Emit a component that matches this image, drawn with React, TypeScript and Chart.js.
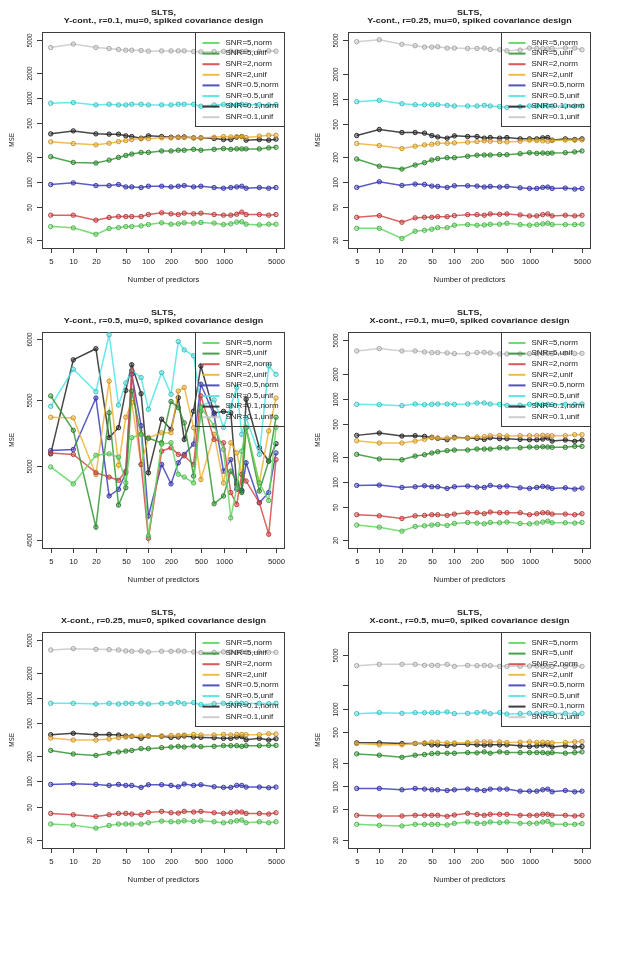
import React, { useEffect, useRef } from 'react';
import { Chart, registerables } from 'chart.js';
Chart.register(...registerables);

// ---------------- data ----------------
const predictors = [5, 10, 20, 30, 40, 50, 60, 80, 100, 150, 200, 250, 300, 400, 500, 750, 1000, 1250, 1500, 1750, 2000, 3000, 4000, 5000];
const seriesLabels = ['SNR=5,norm', 'SNR=5,unif', 'SNR=2,norm', 'SNR=2,unif', 'SNR=0.5,norm', 'SNR=0.5,unif', 'SNR=0.1,norm', 'SNR=0.1,unif'];
const seriesRGB = [[98, 214, 98], [52, 150, 52], [214, 72, 72], [240, 178, 56], [62, 62, 190], [80, 228, 228], [40, 40, 40], [200, 200, 200]];

const xTicks = [5, 10, 20, 50, 100, 200, 500, 1000, 2000, 5000];
const xTickLabels = ['5', '10', '20', '50', '100', '200', '500', '1000', '', '5000'];
const logTicks = [20, 50, 100, 200, 500, 1000, 2000, 5000];
const logTickLabels = ['20', '50', '100', '200', '500', '1000', '2000', '5000'];
const logTickLabelsP6 = ['20', '50', '100', '200', '500', '1000', '', '5000'];
const linTicks = [4500, 5000, 5500, 6000];
const linTickLabels = ['4500', '5000', '5500', '6000'];

// Panel 1: Y-cont., r=0.1
const yc1_s5n = [29.2, 28.2, 23.6, 27.7, 28.4, 29.2, 29.2, 29.8, 30.9, 32.4, 31.2, 31.5, 32.4, 32.1, 32.7, 32.1, 30.9, 31.5, 33.0, 33.3, 31.2, 30.6, 31.2, 31.2];
const yc1_s5u = [200, 171, 168, 182, 196, 207, 215, 225, 225, 234, 234, 239, 239, 245, 239, 245, 250, 245, 248, 248, 248, 248, 255, 259];
const yc1_s2n = [40.0, 40.0, 34.8, 37.5, 38.5, 38.5, 38.5, 38.5, 40.7, 42.7, 41.5, 40.7, 42.3, 41.5, 42.3, 40.7, 40.0, 40.0, 41.1, 43.5, 40.7, 40.7, 40.0, 40.7];
const yc1_s2u = [301, 287, 277, 290, 303, 312, 321, 327, 327, 336, 336, 339, 339, 336, 336, 342, 348, 345, 345, 348, 339, 352, 361, 361];
const yc1_s05n = [92.9, 97.3, 90.3, 90.3, 92.9, 87.1, 87.1, 85.5, 88.7, 88.7, 87.1, 88.7, 90.3, 87.1, 88.7, 85.5, 83.9, 85.5, 87.1, 88.7, 83.9, 85.5, 83.9, 85.5];
const yc1_s05u = [871, 887, 832, 847, 832, 832, 847, 847, 832, 832, 832, 847, 847, 847, 802, 832, 840, 832, 840, 847, 832, 840, 832, 840];
const yc1_s01n = [375, 407, 375, 372, 372, 355, 348, 333, 355, 348, 342, 342, 345, 336, 336, 330, 321, 321, 342, 348, 315, 321, 315, 324];
const yc1_s01u = [4040, 4440, 4040, 3925, 3820, 3750, 3750, 3715, 3650, 3680, 3680, 3680, 3680, 3610, 3580, 3600, 3620, 3650, 3620, 3600, 3650, 3620, 3680, 3650];

// Panel 2: Y-cont., r=0.25
const yc2_s5n = [27.9, 27.9, 21.1, 25.7, 26.4, 27.2, 28.4, 28.4, 30.4, 30.9, 30.4, 30.6, 31.2, 31.2, 32.1, 30.9, 30.4, 30.9, 31.5, 32.1, 30.9, 30.9, 30.9, 31.2];
const yc2_s5u = [189, 155, 143, 160, 171, 184, 191, 196, 196, 204, 210, 211, 211, 213, 213, 219, 225, 221, 223, 221, 223, 225, 230, 236];
const yc2_s2n = [37.8, 39.6, 33.0, 37.2, 37.8, 37.8, 38.5, 38.5, 39.6, 40.7, 40.7, 40.0, 41.5, 41.1, 41.5, 40.4, 39.3, 39.3, 40.7, 41.5, 39.3, 40.0, 39.3, 40.0];
const yc2_s2u = [290, 274, 252, 269, 279, 284, 292, 292, 295, 301, 306, 312, 309, 306, 303, 309, 318, 315, 312, 309, 315, 318, 318, 321];
const yc2_s05n = [86.3, 101, 91.2, 94.6, 93.7, 89.5, 88.7, 86.3, 90.3, 90.3, 89.5, 87.1, 88.7, 87.1, 88.7, 85.5, 83.9, 83.9, 86.3, 87.1, 83.9, 84.7, 82.4, 83.9];
const yc2_s05u = [920, 955, 871, 847, 847, 847, 847, 832, 817, 817, 817, 832, 817, 802, 787, 802, 817, 817, 817, 817, 817, 817, 817, 817];
const yc2_s01n = [361, 427, 393, 393, 386, 361, 348, 336, 358, 352, 352, 336, 342, 336, 342, 330, 330, 330, 339, 342, 318, 330, 324, 330];
const yc2_s01u = [4820, 5090, 4480, 4320, 4150, 4150, 4190, 4040, 4040, 4000, 4000, 4040, 3890, 3855, 3750, 3820, 4040, 4000, 4000, 3965, 4000, 4040, 4040, 3855];

// Panel 3: Y-cont., r=0.5
const yc3_s5n = [4995, 4875, 5080, 5090, 5066, 4882, 5210, 5235, 4523, 5162, 5172, 4943, 4923, 4882, 5440, 5300, 5122, 4643, 4848, 5110, 5285, 4882, 4760, 5288];
const yc3_s5u = [5532, 5265, 4582, 5400, 4729, 4848, 5571, 5235, 5205, 5172, 5487, 5440, 5322, 4930, 5412, 4738, 4791, 4965, 4890, 4815, 5285, 4825, 5037, 5365];
const yc3_s2n = [5097, 5086, 4954, 4923, 4900, 4965, 5735, 5013, 4508, 5110, 5135, 5086, 5075, 5013, 5532, 5197, 5172, 4815, 4733, 4943, 4895, 4745, 4535, 5048];
const yc3_s2u = [5365, 5360, 4940, 5650, 5008, 5365, 5480, 5013, 5210, 5247, 5247, 5571, 5600, 5285, 4906, 5235, 4882, 5172, 5097, 4940, 5285, 4882, 5260, 5515];
const yc3_s05n = [5114, 5122, 5515, 4791, 4837, 4954, 5706, 5300, 4655, 5013, 4875, 5025, 5086, 5162, 5625, 5380, 4965, 5048, 4837, 4825, 5025, 4745, 4815, 5097];
const yc3_s05u = [5450, 5748, 5566, 6040, 5460, 5636, 5740, 5680, 5426, 5720, 5545, 5982, 5910, 5860, 5450, 5500, 5288, 5450, 5600, 5235, 5360, 5086, 5775, 5706];
const yc3_s01n = [5090, 5826, 5920, 5210, 5285, 5576, 5785, 5550, 4954, 5350, 5272, 5518, 5197, 5412, 5775, 5398, 5410, 5400, 4870, 4830, 5505, 5135, 5037, 5165];
const yc3_s01u: number[] = [];

// Panel 4: X-cont., r=0.1
const xc1_s5n = [30.5, 28.8, 25.8, 29.4, 29.9, 30.5, 31.0, 30.2, 31.9, 32.8, 32.2, 31.6, 32.8, 32.5, 33.1, 31.9, 31.6, 32.2, 33.1, 34.0, 32.5, 32.5, 32.2, 32.8];
const xc1_s5u = [215, 189, 185, 205, 213, 223, 231, 238, 242, 242, 249, 249, 249, 258, 256, 258, 263, 261, 265, 263, 261, 261, 268, 268];
const xc1_s2n = [40.6, 39.4, 36.6, 39.4, 39.8, 40.6, 40.6, 39.8, 41.3, 42.9, 42.9, 41.7, 43.7, 42.9, 42.9, 42.9, 40.6, 41.7, 42.9, 42.9, 41.3, 41.3, 40.6, 41.7];
const xc1_s2u = [313, 294, 294, 310, 325, 340, 337, 337, 337, 340, 347, 350, 360, 363, 356, 360, 360, 360, 363, 360, 360, 360, 370, 370];
const xc1_s05n = [91.2, 92.0, 86.3, 87.9, 90.4, 87.9, 87.9, 83.9, 87.9, 89.5, 87.1, 86.3, 91.2, 87.9, 89.5, 85.5, 83.9, 86.3, 88.7, 87.1, 83.9, 85.5, 82.4, 84.7];
const xc1_s05u = [855, 847, 824, 863, 847, 855, 863, 863, 855, 863, 887, 887, 863, 855, 832, 832, 855, 855, 847, 855, 847, 855, 855, 863];
const xc1_s01n = [363, 387, 356, 360, 353, 344, 334, 322, 344, 337, 334, 325, 340, 331, 331, 325, 322, 322, 328, 337, 310, 319, 308, 319];
const xc1_s01u = [3733, 3981, 3733, 3733, 3631, 3565, 3565, 3532, 3467, 3467, 3565, 3597, 3532, 3436, 3436, 3436, 3467, 3467, 3500, 3500, 3467, 3500, 3467, 3500];

// Panel 5: X-cont., r=0.25
const xc2_s5n = [30.8, 29.9, 27.5, 29.6, 30.8, 30.8, 30.8, 30.8, 31.9, 33.4, 32.8, 32.8, 33.7, 33.1, 33.7, 32.8, 31.9, 32.8, 33.7, 34.4, 31.9, 32.8, 31.9, 32.8];
const xc2_s5u = [235, 213, 205, 217, 225, 231, 235, 247, 247, 254, 258, 263, 258, 265, 261, 263, 268, 268, 268, 263, 268, 268, 270, 270];
const xc2_s2n = [41.3, 39.8, 38.0, 39.8, 41.3, 41.3, 40.6, 39.8, 42.5, 43.7, 42.1, 41.7, 43.7, 42.9, 43.7, 42.1, 41.3, 42.1, 42.9, 42.9, 41.3, 41.3, 40.6, 42.1];
const xc2_s2u = [331, 313, 313, 322, 334, 340, 347, 350, 347, 350, 356, 356, 360, 366, 360, 360, 366, 360, 366, 366, 363, 363, 373, 370];
const xc2_s05n = [92.0, 93.8, 92.0, 89.5, 92.0, 89.5, 89.5, 84.7, 91.2, 91.2, 89.5, 86.3, 92.9, 89.5, 91.2, 86.3, 84.7, 84.7, 89.5, 89.5, 85.5, 85.5, 83.9, 85.5];
const xc2_s05u = [863, 863, 847, 863, 847, 863, 863, 863, 847, 863, 863, 887, 855, 879, 832, 855, 863, 855, 863, 863, 855, 863, 855, 863];
const xc2_s01n = [363, 377, 363, 366, 360, 350, 347, 328, 350, 347, 337, 340, 350, 340, 337, 334, 328, 328, 340, 344, 316, 328, 313, 325];
const xc2_s01u = [3767, 3908, 3837, 3802, 3767, 3664, 3631, 3664, 3565, 3631, 3631, 3664, 3631, 3565, 3500, 3532, 3565, 3565, 3532, 3565, 3532, 3565, 3532, 3532];

// Panel 6: X-cont., r=0.5
const xc3_s5n = [31.6, 30.7, 30.1, 31.6, 31.6, 31.6, 31.6, 31.0, 32.6, 33.9, 32.6, 32.6, 33.9, 33.2, 33.9, 32.6, 32.6, 32.6, 33.9, 34.6, 31.6, 31.6, 31.6, 32.3];
const xc3_s5u = [259, 249, 234, 249, 254, 261, 264, 264, 264, 269, 267, 275, 264, 275, 269, 269, 269, 269, 269, 264, 269, 264, 269, 275];
const xc3_s2n = [41.4, 40.6, 40.6, 41.4, 41.4, 41.4, 41.4, 40.2, 41.8, 44.0, 42.3, 41.4, 42.7, 42.7, 42.7, 41.4, 41.4, 41.4, 42.7, 42.7, 41.4, 41.4, 40.6, 41.4];
const xc3_s2u = [353, 339, 339, 353, 360, 367, 367, 360, 360, 364, 371, 371, 371, 371, 364, 367, 371, 364, 367, 364, 360, 364, 371, 375];
const xc3_s05n = [92.3, 92.3, 88.7, 92.3, 90.5, 88.7, 88.7, 86.9, 88.7, 90.5, 88.7, 86.9, 90.5, 90.5, 90.5, 85.1, 85.1, 85.1, 88.7, 90.5, 83.5, 86.9, 83.5, 85.1];
const xc3_s05u = [861, 887, 869, 887, 887, 887, 887, 905, 861, 869, 887, 905, 861, 887, 851, 861, 869, 861, 869, 869, 861, 869, 861, 869];
const xc3_s01n = [360, 360, 353, 353, 353, 339, 339, 332, 346, 346, 339, 336, 339, 339, 339, 329, 323, 329, 336, 339, 319, 329, 319, 323];
const xc3_s01u = [3606, 3750, 3750, 3750, 3640, 3640, 3640, 3750, 3532, 3640, 3606, 3640, 3606, 3532, 3532, 3532, 3570, 3570, 3532, 3532, 3532, 3532, 3570, 3532];

// ---------------- layout / style ----------------
const H = 300;
const BOX_L = 42;
const BOX_R = 285;
const BOX_T = 32;
const BOX_B = 248;
const X_MIN = 3.83;
const X_MAX = 6590;
const SQ = 0.82; // vertical squash of the original raster
const FONT = '"Liberation Sans", Arial, Helvetica, sans-serif';
const TXT = '#222222';

type Spec = {
  sub: string;
  series: number[][];
  yMin: number;
  yMax: number;
  yTicks: number[];
  yTickLabels: string[];
};

const panels: Spec[] = [
  { sub: 'Y-cont., r=0.1, mu=0, spiked covariance design', series: [yc1_s5n, yc1_s5u, yc1_s2n, yc1_s2u, yc1_s05n, yc1_s05u, yc1_s01n, yc1_s01u], yMin: 16.2, yMax: 6190, yTicks: logTicks, yTickLabels: logTickLabels },
  { sub: 'Y-cont., r=0.25, mu=0, spiked covariance design', series: [yc2_s5n, yc2_s5u, yc2_s2n, yc2_s2u, yc2_s05n, yc2_s05u, yc2_s01n, yc2_s01u], yMin: 16.2, yMax: 6300, yTicks: logTicks, yTickLabels: logTickLabels },
  { sub: 'Y-cont., r=0.5, mu=0, spiked covariance design', series: [yc3_s5n, yc3_s5u, yc3_s2n, yc3_s2u, yc3_s05n, yc3_s05u, yc3_s01n, yc3_s01u], yMin: 4446, yMax: 6064, yTicks: linTicks, yTickLabels: linTickLabels },
  { sub: 'X-cont., r=0.1, mu=0, spiked covariance design', series: [xc1_s5n, xc1_s5u, xc1_s2n, xc1_s2u, xc1_s05n, xc1_s05u, xc1_s01n, xc1_s01u], yMin: 16.2, yMax: 6300, yTicks: logTicks, yTickLabels: logTickLabels },
  { sub: 'X-cont., r=0.25, mu=0, spiked covariance design', series: [xc2_s5n, xc2_s5u, xc2_s2n, xc2_s2u, xc2_s05n, xc2_s05u, xc2_s01n, xc2_s01u], yMin: 15.9, yMax: 6185, yTicks: logTicks, yTickLabels: logTickLabels },
  { sub: 'X-cont., r=0.5, mu=0, spiked covariance design', series: [xc3_s5n, xc3_s5u, xc3_s2n, xc3_s2u, xc3_s05n, xc3_s05u, xc3_s01n, xc3_s01u], yMin: 15.6, yMax: 9850, yTicks: logTicks, yTickLabels: logTickLabelsP6 },
];

const rgba = (c: number[], a: number) => `rgba(${c[0]},${c[1]},${c[2]},${a})`;

function txt(ctx: CanvasRenderingContext2D, s: string, x: number, y: number, font: string, rot = false, align: CanvasTextAlign = 'center') {
  ctx.save();
  ctx.translate(x, y);
  ctx.scale(1, SQ);
  if (rot) ctx.rotate(-Math.PI / 2);
  ctx.font = font;
  ctx.fillStyle = TXT;
  ctx.textAlign = align;
  ctx.textBaseline = 'middle';
  ctx.fillText(s, 0, 0);
  ctx.restore();
}

function makePlugin(spec: Spec) {
  return {
    id: 'rplot',
    beforeDatasetsDraw(chart: any) {
      const ctx: CanvasRenderingContext2D = chart.ctx;
      const a = chart.chartArea;
      const xs = chart.scales.x;
      const ys = chart.scales.y;
      ctx.save();
      ctx.strokeStyle = '#3c3c3c';
      ctx.lineWidth = 1;
      ctx.strokeRect(Math.round(a.left) + 0.5, Math.round(a.top) + 0.5, Math.round(a.right - a.left) - 1, Math.round(a.bottom - a.top));
      const tickFont = `7.7px ${FONT}`;
      xTicks.forEach((v, i) => {
        const px = Math.round(xs.getPixelForValue(v)) + 0.5;
        ctx.beginPath();
        ctx.moveTo(px, a.bottom);
        ctx.lineTo(px, a.bottom + 5);
        ctx.stroke();
        if (xTickLabels[i]) txt(ctx, xTickLabels[i], px, a.bottom + 14.5, tickFont);
      });
      spec.yTicks.forEach((v, i) => {
        const py = Math.round(ys.getPixelForValue(v)) + 0.5;
        ctx.beginPath();
        ctx.moveTo(a.left - 5, py);
        ctx.lineTo(a.left, py);
        ctx.stroke();
        if (spec.yTickLabels[i]) txt(ctx, spec.yTickLabels[i], a.left - 12.5, py, tickFont, true);
      });
      const cx = (a.left + a.right) / 2;
      txt(ctx, 'SLTS,', cx, a.top - 19.5, `bold 9px ${FONT}`);
      txt(ctx, spec.sub, cx, a.top - 11.5, `bold 9px ${FONT}`);
      txt(ctx, 'Number of predictors', cx, a.bottom + 32.5, `7.7px ${FONT}`);
      txt(ctx, 'MSE', 11.5, (a.top + a.bottom) / 2, `7.7px ${FONT}`, true);
      ctx.restore();
    },
    afterDatasetsDraw(chart: any) {
      const ctx: CanvasRenderingContext2D = chart.ctx;
      const a = chart.chartArea;
      const L = a.right - 90;
      const T = a.top;
      ctx.save();
      ctx.strokeStyle = '#3c3c3c';
      ctx.lineWidth = 1;
      ctx.strokeRect(Math.round(L) + 0.5, Math.round(T) + 0.5, Math.round(a.right - L) - 1, 94);
      seriesLabels.forEach((lab, i) => {
        const y = T + 11 + i * 10.6;
        ctx.strokeStyle = rgba(seriesRGB[i], 0.9);
        ctx.lineWidth = 2;
        ctx.beginPath();
        ctx.moveTo(L + 7.5, y);
        ctx.lineTo(L + 24.5, y);
        ctx.stroke();
        txt(ctx, lab, L + 30.5, y, `8px ${FONT}`, false, 'left');
      });
      ctx.restore();
    },
  };
}

function Panel({ spec, left, top, width }: { spec: Spec; left: number; top: number; width: number }) {
  const ref = useRef<HTMLCanvasElement>(null);
  useEffect(() => {
    const canvas = ref.current!;
    const chart = new Chart(canvas, {
      type: 'line',
      data: {
        datasets: spec.series.map((vals, i) => ({
          label: seriesLabels[i],
          data: vals.map((v, j) => ({ x: predictors[j], y: v })),
          borderColor: rgba(seriesRGB[i], 0.85),
          backgroundColor: rgba(seriesRGB[i], 0.4),
          borderWidth: 1.5,
          pointRadius: 2.2,
          pointBorderWidth: 1,
          pointBackgroundColor: rgba(seriesRGB[i], 0.4),
          pointBorderColor: rgba(seriesRGB[i].map((c) => Math.round(c * 0.8)), 0.9),
          fill: false,
          tension: 0,
        })),
      },
      options: {
        responsive: false,
        animation: false,
        devicePixelRatio: 1,
        events: [],
        layout: { padding: { left: BOX_L, top: BOX_T, right: width - BOX_R, bottom: H - BOX_B } },
        plugins: { legend: { display: false }, tooltip: { enabled: false }, title: { display: false } },
        scales: {
          x: { type: 'logarithmic', display: false, min: X_MIN, max: X_MAX, bounds: 'data' },
          y: { type: 'logarithmic', display: false, min: spec.yMin, max: spec.yMax, bounds: 'data' },
        },
      } as any,
      plugins: [makePlugin(spec)],
    });
    return () => chart.destroy();
  }, []);
  return (
    <canvas
      ref={ref}
      width={width}
      height={H}
      style={{ position: 'absolute', left, top, width, height: H }}
    />
  );
}

export default function App() {
  return (
    <div style={{ position: 'absolute', left: 0, top: 0, width: 634, height: 955, background: '#fff', overflow: 'hidden' }}>
      {panels.map((p, i) => {
        const col = i % 2;
        const row = Math.floor(i / 2);
        return <Panel key={i} spec={p} left={col === 0 ? 0 : 306} top={row * 300} width={col === 0 ? 320 : 328} />;
      })}
    </div>
  );
}
